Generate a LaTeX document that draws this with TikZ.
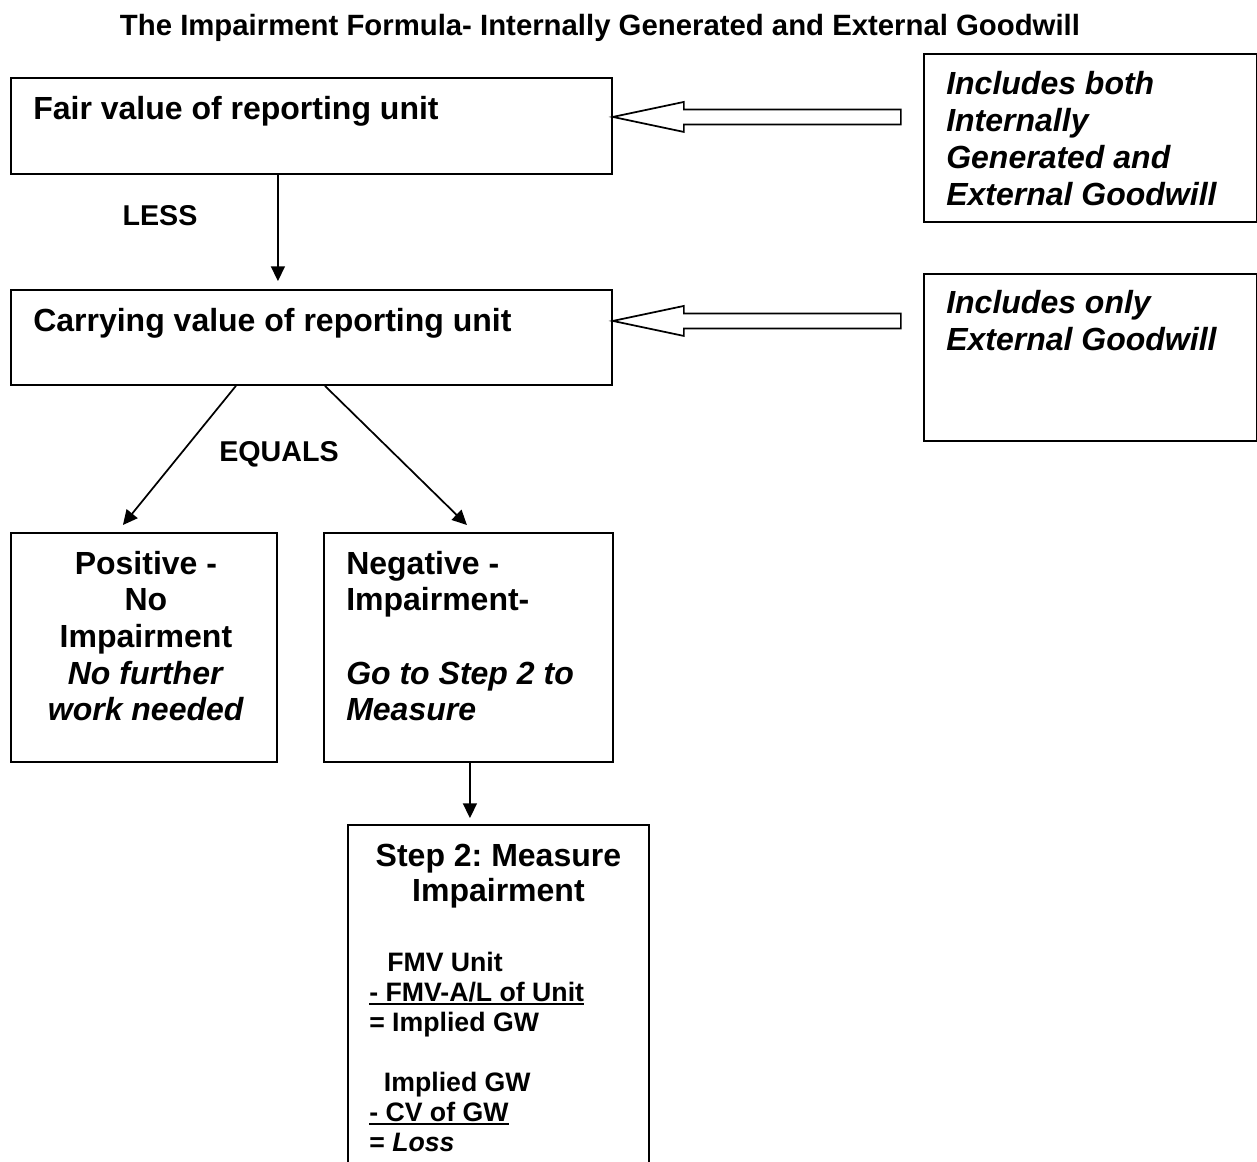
\documentclass[tikz,border=0pt]{standalone}
\usepackage{fontspec}
\setmainfont{Liberation Sans}
\frenchspacing
\usetikzlibrary{calc,arrows.meta}
\newcommand\undr[1]{\setbox0\hbox{#1}\rlap{\rule[-3pt]{\wd0}{1.4pt}}\box0}

\begin{document}
\begin{tikzpicture}[x=0.75pt,y=-0.75pt,
  box/.style={draw,line width=1.4pt,inner sep=0pt,anchor=north west},
  txt/.style={inner sep=0pt,font=\fontsize{24}{27.5}\selectfont\bfseries,align=left},
  itxt/.style={txt,font=\fontsize{24}{27.75}\selectfont\bfseries\itshape},
  lbl/.style={inner sep=0pt,font=\fontsize{21.5}{26}\selectfont\bfseries,anchor=base},
  calcs/.style={inner sep=0pt,font=\fontsize{20}{22.5}\selectfont\bfseries,align=left,anchor=base west},
  arr/.style={line width=1.3pt,-{Triangle[length=11pt,width=10.5pt]}},
  hollow/.style={draw,line width=1.3pt,fill=white,line join=miter}]
\useasboundingbox (0,0) rectangle (1257,1161);

\node[lbl,font=\fontsize{22}{26}\selectfont\bfseries] (title) at (600,35) {The Impairment Formula- Internally Generated and External Goodwill};

\node[box,minimum width=450.75pt,minimum height=72pt] (fair) at (10,77) {};
\node[box,minimum width=450.75pt,minimum height=71.25pt] (carry) at (10,289) {};
\node[box,minimum width=249.75pt,minimum height=126pt] (inc1) at (923,53) {};
\node[box,minimum width=249.75pt,minimum height=125.25pt] (inc2) at (923,273) {};
\node[box,minimum width=199.5pt,minimum height=171.75pt] (pos) at (10,532) {};
\node[box,minimum width=216.75pt,minimum height=171.75pt] (neg) at (323,532) {};
\node[box,minimum width=225.75pt,minimum height=270pt] (step) at (347,824) {};

% multi-line texts are placed by the baseline of their last line
\node[txt,anchor=base west] (fairtxt) at ($(fair.north west)+(23,42)$) {Fair value of reporting unit};
\node[txt,anchor=base west] (carrytxt) at ($(carry.north west)+(23,42)$) {Carrying value of reporting unit};
\node[itxt,anchor=base west] (inc1txt) at ($(inc1.north west)+(23,152)$) {Includes both\\Internally\\Generated and\\External Goodwill};
\node[itxt,anchor=base west] (inc2txt) at ($(inc2.north west)+(23,77)$) {Includes only\\External Goodwill};
\node[txt,align=center,anchor=base] (postxt) at ($(pos.north)+(2,188.7)$) {Positive -\\No\\Impairment\\\textit{No further}\\\textit{work needed}};
\node[txt,anchor=base west] (negtxt) at ($(neg.north west)+(23,188.7)$) {Negative -\\Impairment-\\\mbox{}\\\textit{Go to Step 2 to}\\\textit{Measure}};
\node[txt,align=center,anchor=base,font=\fontsize{24}{26.25}\selectfont\bfseries] (steptitle) at ($(step.north)+(0,77)$) {Step 2: Measure\\Impairment};
\node[calcs] (stepcalc) at ($(step.north west)+(22,327)$) {\hspace*{13.5pt}FMV Unit\\\undr{- FMV-A/L of Unit}\\= Implied GW\\\mbox{}\\\hspace*{11pt}Implied GW\\\undr{- CV of GW}\\= \textit{Loss}};

\node[lbl] (less) at (160,225) {LESS};
\node[lbl] (equals) at (279,461) {EQUALS};

\coordinate (tipA) at ($(fair.east)+(0,-9)$);
\coordinate (tipB) at ($(carry.east)+(0,-16.5)$);
\draw[hollow] (tipA) -- ++(71,-15) -- ++(0,7.5) -- ++(217,0) -- ++(0,15) -- ++(-217,0) -- ++(0,7.5) -- cycle;
\draw[hollow] (tipB) -- ++(71,-15) -- ++(0,7.5) -- ++(217,0) -- ++(0,15) -- ++(-217,0) -- ++(0,7.5) -- cycle;

\draw[arr] ($(fair.south)+(-33.5,0)$) -- ($(fair.south |- carry.north)+(-33.5,-8)$);
\draw[arr] ($(carry.south)+(-75.5,0)$) -- ($(pos.north)+(-21,-7)$);
\draw[arr] ($(carry.south)+(13.5,0)$) -- ($(neg.north)+(-1.5,-7)$);
\draw[arr] ($(neg.south)+(1.5,0)$) -- ($(neg.south |- step.north)+(1.5,-6)$);
\end{tikzpicture}
\end{document}
